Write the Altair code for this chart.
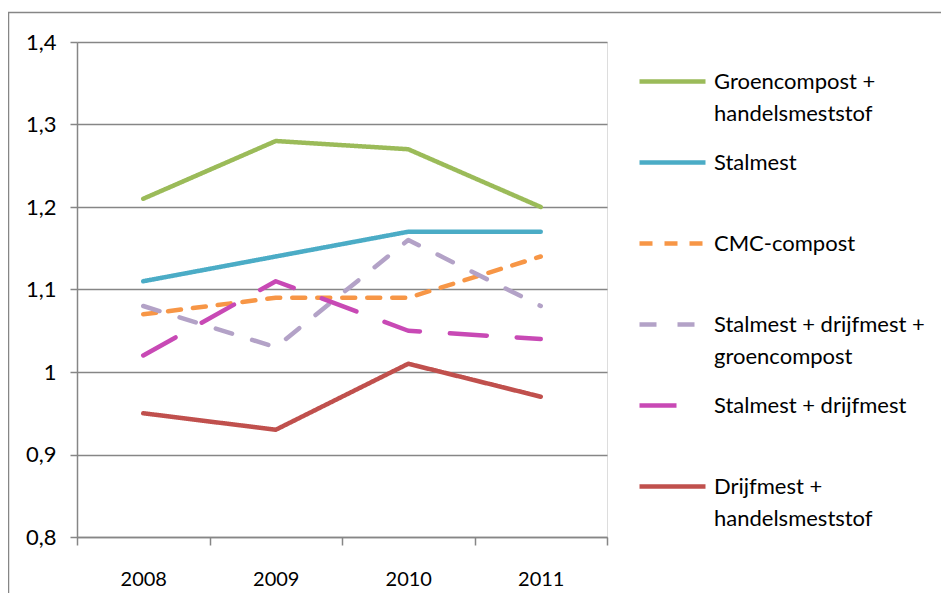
import altair as alt
import pandas as pd

years = ["2008", "2009", "2010", "2011"]
series = [
    "Groencompost + handelsmeststof",
    "Stalmest",
    "CMC-compost",
    "Stalmest + drijfmest + groencompost",
    "Stalmest + drijfmest",
    "Drijfmest + handelsmeststof",
]
groencompost_hms = [1.21, 1.28, 1.27, 1.20]
stalmest = [1.11, 1.14, 1.17, 1.17]
cmc_compost = [1.07, 1.09, 1.09, 1.14]
stal_drijf_groen = [1.08, 1.03, 1.16, 1.08]
stal_drijf = [1.02, 1.11, 1.05, 1.04]
drijf_hms = [0.95, 0.93, 1.01, 0.97]
values = [groencompost_hms, stalmest, cmc_compost, stal_drijf_groen, stal_drijf, drijf_hms]

colors = ["#9BBB59", "#4BACC6", "#F79646", "#B3A2C7", "#C849B5", "#C0504D"]
dashes = [[1, 0], [1, 0], [13, 12], [17, 21], [37, 30], [1, 0]]
legend_lines = {
    "Groencompost + handelsmeststof": ["Groencompost +", "handelsmeststof"],
    "Stalmest + drijfmest + groencompost": ["Stalmest + drijfmest +", "groencompost"],
    "Drijfmest + handelsmeststof": ["Drijfmest +", "handelsmeststof"],
}
y_ticks = [0.8, 0.9, 1.0, 1.1, 1.2, 1.3, 1.4]

rows = []
for name, vals in zip(series, values):
    for yr, v in zip(years, vals):
        rows.append({"serie": name, "jaar": yr, "waarde": v})
df = pd.DataFrame(rows)

expr = "datum.label"
for k, parts in reversed(list(legend_lines.items())):
    arr = "[" + ",".join("'" + p + "'" for p in parts) + "]"
    expr = f"datum.label == '{k}' ? {arr} : ({expr})"

FONT = "Lato"
GRID = "#868686"

legend = alt.Legend(
    title=None, orient="none", legendX=560, legendY=4,
    symbolType="stroke", symbolSize=4356, symbolStrokeWidth=4.5,
    labelFont=FONT, labelFontSize=22, labelColor="black", labelOffset=6,
    labelLimit=400, rowPadding=2, gridAlign="all", labelExpr=expr,
)

lines = alt.Chart(df).mark_line(strokeWidth=4.5, strokeCap="round", strokeJoin="round").encode(
    x=alt.X("jaar:O", scale=alt.Scale(type="band", paddingInner=0, paddingOuter=0),
            axis=alt.Axis(title=None, labelAngle=0, labelFont=FONT, labelFontSize=20,
                          labelColor="black", labelPadding=24, tickBand="extent",
                          tickSize=8, tickColor=GRID, tickWidth=1.5, domainColor=GRID,
                          domainWidth=1.5, grid=False)),
    y=alt.Y("waarde:Q", scale=alt.Scale(domain=[0.8, 1.4], nice=False, zero=False),
            axis=alt.Axis(title=None, values=y_ticks, labelFont=FONT, labelFontSize=22,
                          labelColor="black", labelPadding=14, tickSize=7, tickColor=GRID,
                          tickWidth=1.5, domainColor=GRID, domainWidth=1.5,
                          gridColor=GRID, gridWidth=1.5,
                          labelExpr="replace(format(datum.value, '.1~f'), '.', ',')")),
    color=alt.Color("serie:N", scale=alt.Scale(domain=series, range=colors), legend=legend),
    strokeDash=alt.StrokeDash("serie:N", scale=alt.Scale(domain=series, range=dashes), legend=legend),
    order=alt.Order("jaar:O"),
)

border = alt.Chart(pd.DataFrame({"b": [0]})).mark_rect(fill=None, stroke=GRID, strokeWidth=1.5).encode(
    x=alt.value(-68.5), x2=alt.value(890), y=alt.value(-29.5), y2=alt.value(580),
)

chart = alt.layer(border, lines).properties(
    width=530, height=495,
    autosize=alt.AutoSizeParams(type="none"),
    padding={"left": 69, "top": 34, "right": 334, "bottom": 56},
).configure_view(stroke=None).configure(
    background="white", style={"guide-label": {"lineHeight": 32}}
)

chart.save("out.html", embed_options={"renderer": "svg", "actions": False})
